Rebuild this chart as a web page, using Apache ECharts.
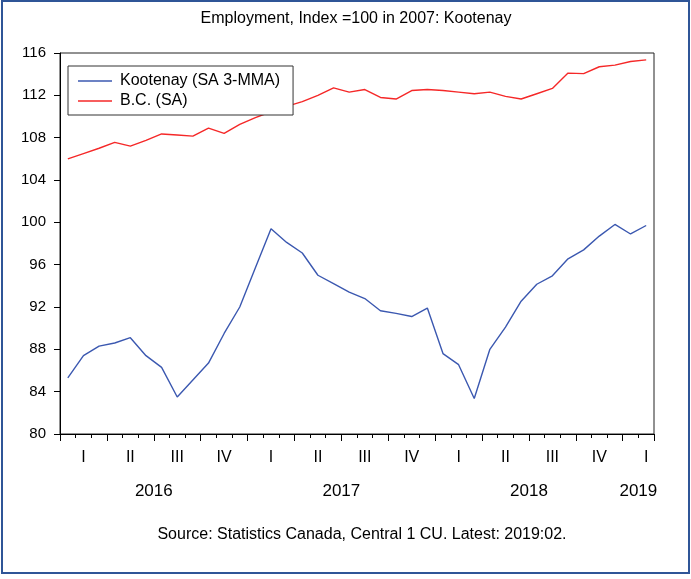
<!DOCTYPE html>
<html>
<head>
<meta charset="utf-8">
<script src="https://cdn.jsdelivr.net/npm/echarts/dist/echarts.min.js"></script>
<style>
  html, body { margin: 0; padding: 0; background: #fff; }
  #wrap { position: relative; width: 691px; height: 579px; }
  #chart { position: absolute; left: 0; top: 0; width: 691px; height: 579px; }
  #frame { position: absolute; left: 1px; top: 0px; width: 689px; height: 574px; box-sizing: border-box;
           border: 2px solid #2f5597; pointer-events: none; }
</style>
</head>
<body>
<div id="wrap"><div id="chart"></div><div id="frame"></div></div>
<script>
// Months Jan 2016 .. Feb 2019
const months = [
  '2016-01','2016-02','2016-03','2016-04','2016-05','2016-06','2016-07','2016-08','2016-09','2016-10','2016-11','2016-12',
  '2017-01','2017-02','2017-03','2017-04','2017-05','2017-06','2017-07','2017-08','2017-09','2017-10','2017-11','2017-12',
  '2018-01','2018-02','2018-03','2018-04','2018-05','2018-06','2018-07','2018-08','2018-09','2018-10','2018-11','2018-12',
  '2019-01','2019-02'
];
const kootenay = [
  85.3, 87.4, 88.3, 88.6, 89.1, 87.4, 86.3, 83.5, 85.1, 86.7, 89.5, 92.0,
  95.7, 99.4, 98.1, 97.1, 95.0, 94.2, 93.4, 92.8, 91.65, 91.4, 91.1, 91.9,
  87.6, 86.55, 83.35, 88.0, 90.1, 92.55, 94.15, 94.95, 96.55, 97.4, 98.7, 99.8,
  98.9, 99.7
];
const bc = [
  106.0, 106.5, 107.0, 107.55, 107.2, 107.75, 108.35, 108.25, 108.15, 108.9, 108.4, 109.25,
  109.9, 110.45, 110.95, 111.4, 112.0, 112.7, 112.3, 112.55, 111.8, 111.65, 112.45, 112.55,
  112.45, 112.3, 112.15, 112.3, 111.9, 111.65, 112.15, 112.65, 114.1, 114.05, 114.7, 114.85,
  115.2, 115.35
];
const quarterLabels = ['I', 'II', 'III', 'IV'];
const yearLabels = { 6: '2016', 18: '2017', 30: '2018', 37: '2019' };
const seriesNames = ['Kootenay (SA 3-MMA)', 'B.C. (SA)'];
const titleText = 'Employment, Index =100 in 2007: Kootenay';
const sourceText = 'Source: Statistics Canada, Central 1 CU. Latest: 2019:02.';

const FONT = "'Liberation Sans', Arial, Helvetica, sans-serif";
const chart = echarts.init(document.getElementById('chart'), null, { renderer: 'canvas' });

chart.setOption({
  backgroundColor: '#ffffff',
  animation: false,
  textStyle: { fontFamily: FONT, color: '#000' },
  graphic: [
    { type: 'text', x: 356, y: 19, z: 10,
      style: { text: titleText, fill: '#000', font: '16px ' + FONT, textAlign: 'center', textVerticalAlign: 'middle' } },
    { type: 'text', x: 362, y: 535, z: 10,
      style: { text: sourceText, fill: '#000', font: '16px ' + FONT, textAlign: 'center', textVerticalAlign: 'middle' } }
  ],
  legend: {
    orient: 'vertical',
    left: 68, top: 66,
    padding: [7, 13, 6, 10],
    itemGap: 4,
    itemWidth: 34, itemHeight: 1.5,
    icon: 'rect',
    borderColor: '#333', borderWidth: 1,
    backgroundColor: '#fff',
    textStyle: { fontFamily: FONT, fontSize: 16, color: '#000', padding: [0, 0, 0, 3] },
    data: seriesNames
  },
  grid: { left: 60, right: 37, top: 53, bottom: 145, show: true, borderColor: '#222', borderWidth: 1 },
  xAxis: [
    {
      type: 'category', data: months, boundaryGap: true, position: 'bottom',
      axisLine: { show: true, lineStyle: { color: '#000', width: 1 } },
      axisTick: { show: true, interval: 0, length: 4, inside: false, lineStyle: { color: '#000' } },
      axisLabel: {
        interval: 0, margin: 16, fontFamily: FONT, fontSize: 16, color: '#000',
        formatter: (v, i) => (i % 3 === 1 ? quarterLabels[Math.floor(i / 3) % 4] : '')
      },
      splitLine: { show: false }
    },
    {
      type: 'value', min: 0, max: 38, interval: 3, position: 'bottom',
      axisLine: { show: false },
      axisTick: { show: true, length: 7, lineStyle: { color: '#000' } },
      axisLabel: { show: false },
      splitLine: { show: false }
    },
    {
      type: 'value', min: 0, max: 38, interval: 1, position: 'bottom',
      axisLine: { show: false }, axisTick: { show: false }, splitLine: { show: false },
      axisLabel: {
        show: true, margin: 49, fontFamily: FONT, fontSize: 17, color: '#000',
        showMinLabel: true, showMaxLabel: true, hideOverlap: false,
        formatter: v => yearLabels[v] || ''
      }
    }
  ],
  yAxis: {
    type: 'value', min: 80, max: 116, interval: 4,
    axisLine: { show: true, lineStyle: { color: '#000', width: 1 } },
    axisTick: { show: true, length: 6, lineStyle: { color: '#000' } },
    axisLabel: { margin: 14, fontFamily: FONT, fontSize: 15, color: '#000' },
    splitLine: { show: false }
  },
  series: [
    { name: seriesNames[0], type: 'line', data: kootenay, xAxisIndex: 0, symbol: 'none',
      lineStyle: { color: '#3b58b0', width: 1.4 }, itemStyle: { color: '#3b58b0' }, z: 3 },
    { name: seriesNames[1], type: 'line', data: bc, xAxisIndex: 0, symbol: 'none',
      lineStyle: { color: '#f52828', width: 1.4 }, itemStyle: { color: '#f52828' }, z: 2 }
  ]
});
</script>
</body>
</html>
